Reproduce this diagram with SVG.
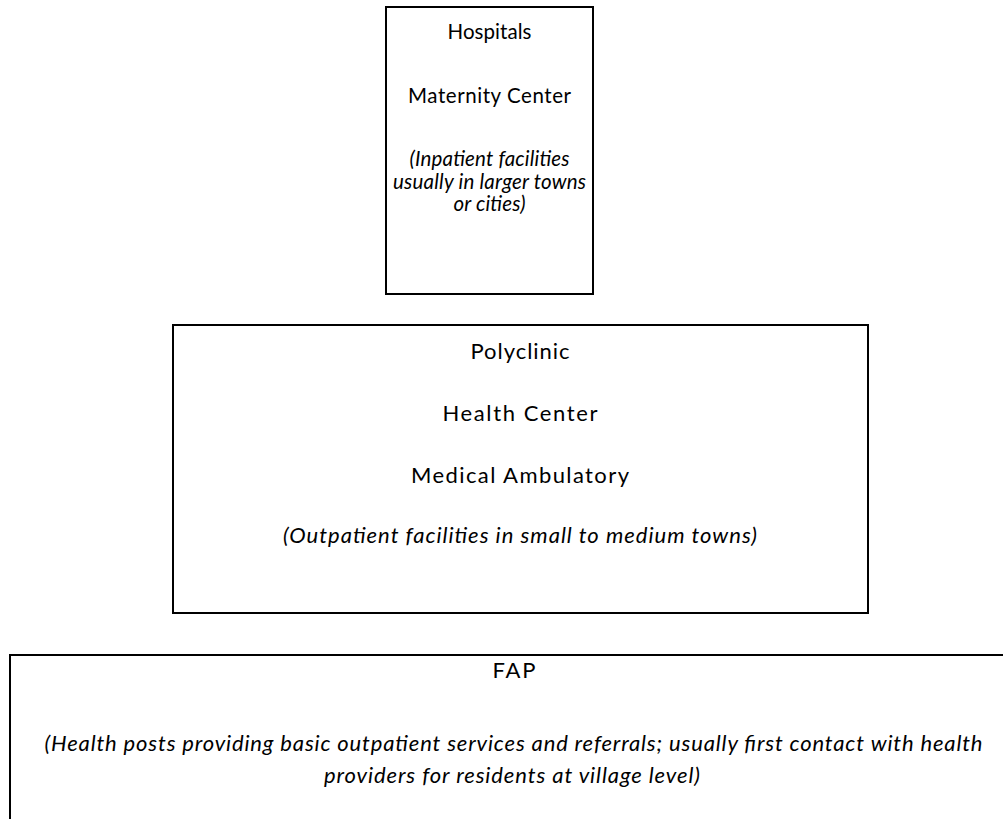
<svg xmlns="http://www.w3.org/2000/svg" width="1003" height="819" viewBox="0 0 1003 819">
<style>
.box{fill:#fff;stroke:#000;stroke-width:2}
text{font-family:Lato,"Open Sans","Liberation Sans",sans-serif;font-size:22px;fill:#000;text-anchor:middle}
.s{font-size:20.5px}
.i{font-style:italic}
</style>
<rect width="1003" height="819" fill="#fff"/>
<g id="hospitals">
<rect class="box" x="386" y="7" width="207" height="287"/>
<text class="s" x="489.5" y="39" textLength="84" lengthAdjust="spacing">Hospitals</text>
<text class="s" x="489.5" y="103" textLength="163" lengthAdjust="spacing">Maternity Center</text>
<text class="s i" x="489.5" y="166" textLength="160" lengthAdjust="spacing">(Inpatient facilities</text>
<text class="s i" x="489.5" y="188.5" textLength="193" lengthAdjust="spacing">usually in larger towns</text>
<text class="s i" x="489.5" y="211" textLength="72" lengthAdjust="spacing">or cities)</text>
</g>
<g id="polyclinic">
<rect class="box" x="173" y="325" width="695" height="288"/>
<text x="520" y="359" textLength="99" lengthAdjust="spacing">Polyclinic</text>
<text x="520" y="421" textLength="155" lengthAdjust="spacing">Health Center</text>
<text x="520" y="483" textLength="218" lengthAdjust="spacing">Medical Ambulatory</text>
<text class="i" x="520" y="543" textLength="474" lengthAdjust="spacing">(Outpatient facilities in small to medium towns)</text>
</g>
<g id="fap">
<rect class="box" x="10" y="655" width="1010" height="180"/>
<text x="514" y="678" textLength="43" lengthAdjust="spacing">FAP</text>
<text class="i" x="513.5" y="751" textLength="938" lengthAdjust="spacing">(Health posts providing basic outpatient services and referrals; usually first contact with health</text>
<text class="i" x="512" y="783" textLength="376" lengthAdjust="spacing">providers for residents at village level)</text>
</g>
<g id="connectors"></g>
</svg>
